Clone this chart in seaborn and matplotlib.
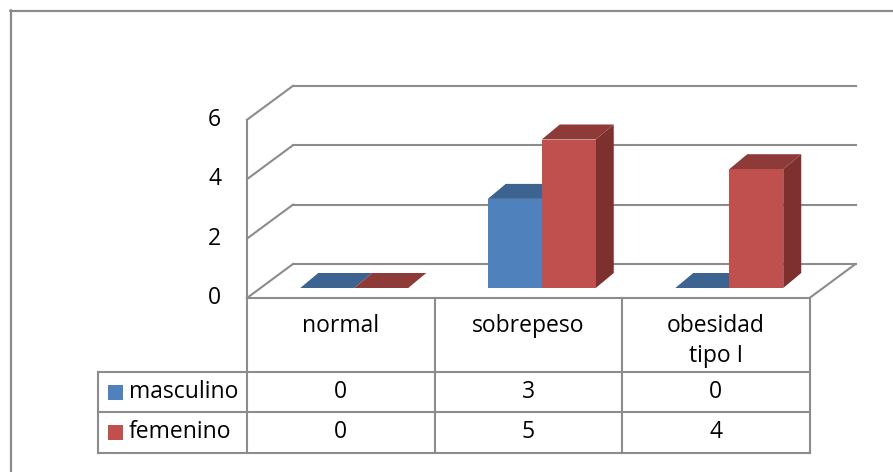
import matplotlib
matplotlib.use("Agg")
import matplotlib.pyplot as plt
from matplotlib.patches import Polygon, Rectangle
from matplotlib.lines import Line2D
from matplotlib.colors import to_hex
import pandas as pd
import seaborn as sns

# ---- data ----
categorias = ["normal", "sobrepeso", "obesidad\ntipo I"]
series = ["masculino", "femenino"]
masculino = [0, 3, 0]
femenino = [0, 5, 4]
y_ticks = [0, 2, 4, 6]

# ---- style ----
W, H, DPI = 893, 472, 100
BLUE, RED = "#4F81BD", "#C0504D"
SHADES = {  # front colour -> (top face, side face)
    BLUE.lower(): ("#3D6391", "#375A84"),
    RED.lower(): ("#8E3A38", "#7D302E"),
}
GRID = "#8C8C8C"
FS = 16.5
TXT = "black"

sns.set_theme(style="white")
plt.rcParams["font.family"] = ["Open Sans", "DejaVu Sans"]
plt.rcParams["text.color"] = TXT

df = pd.DataFrame({
    "categoria": categorias * 2,
    "sexo": [series[0]] * 3 + [series[1]] * 3,
    "valor": masculino + femenino,
})

fig = plt.figure(figsize=(W / DPI, H / DPI), dpi=DPI)
fig.patch.set_facecolor("white")


def fx(px):
    return px / W


def fy(py):
    return 1 - py / H


# axes holding the front plane of the columns
ax = fig.add_axes([fx(260.5), fy(288), fx(823) - fx(260.5), fy(109.8) - fy(288)])
sns.barplot(data=df, x="categoria", y="valor", hue="sexo", order=categorias,
            hue_order=series, palette=[BLUE, RED], width=0.576, saturation=1,
            dodge=True, legend=False, linewidth=0, ax=ax, zorder=3)
ax.set_xlim(-0.5, len(categorias) - 0.5)
ax.set_ylim(0, 6)
ax.axis("off")


def px_delta(dx, dy):
    inv = ax.transData.inverted()
    a = inv.transform((0, 0))
    b = inv.transform((dx, dy))
    return b[0] - a[0], b[1] - a[1]


ddx, ddy = px_delta(18, 15)       # depth of a column
bdx, bdy = px_delta(32.5, 24)     # back wall
fdx, fdy = px_delta(-13.5, -10)   # front edge of the floor
x_lo, x_hi = -0.5, len(categorias) - 0.5

# 3D faces of the columns
for p in ax.patches:
    x0, w, h = p.get_x(), p.get_width(), p.get_height()
    top_c, side_c = SHADES[to_hex(p.get_facecolor())]
    ax.add_patch(Polygon([(x0 + w, 0), (x0 + w + ddx, ddy), (x0 + w + ddx, h + ddy), (x0 + w, h)],
                         closed=True, fc=side_c, ec="none", zorder=2, clip_on=False))
    ax.add_patch(Polygon([(x0, h), (x0 + w, h), (x0 + w + ddx, h + ddy), (x0 + ddx, h + ddy)],
                         closed=True, fc=top_c, ec="none", zorder=2, clip_on=False))

line_kw = dict(color=GRID, lw=1.5, zorder=1, clip_on=False, solid_capstyle="projecting")
for v in y_ticks:
    ax.plot([x_lo + bdx, x_hi + bdx], [v + bdy, v + bdy], **line_kw)
    ax.plot([x_lo + fdx, x_lo + bdx], [v + fdy, v + bdy], **line_kw)
    ax.text(x_lo + fdx + px_delta(-26, 0)[0], v + fdy, str(v), ha="right", va="center",
            fontsize=FS, color=TXT)
ax.plot([x_lo + fdx, x_lo + fdx], [fdy, y_ticks[-1] + fdy], **line_kw)
ax.plot([x_lo + fdx, x_hi + fdx], [fdy, fdy], **line_kw)
ax.plot([x_hi + fdx, x_hi + bdx], [fdy, bdy], **line_kw)

# ---- data table ----
legend_w = 149 / 187.5
tax = fig.add_axes([fx(98), fy(453), fx(809.5) - fx(98), fy(298) - fy(453)])
tax.set_xlim(x_lo - legend_w, x_hi)
tax.set_ylim(155, 0)
tax.axis("off")
rows = [0, 74, 114, 155]
tkw = dict(color=GRID, lw=1.5, clip_on=False, solid_capstyle="projecting")
for b in [x_lo, 0.5, 1.5, x_hi]:
    tax.plot([b, b], [rows[0], rows[-1]], **tkw)
tax.plot([x_lo - legend_w] * 2, [rows[1], rows[-1]], **tkw)
for r in rows[1:]:
    tax.plot([x_lo - legend_w, x_hi], [r, r], **tkw)

for i, c in enumerate(categorias):
    tax.text(i, 16, c, ha="center", va="top", fontsize=FS, linespacing=1.35, color=TXT)

sq = 15 / 187.5
for j, (name, vals, col) in enumerate(zip(series, [masculino, femenino], [BLUE, RED])):
    yc = (rows[j + 1] + rows[j + 2]) / 2
    tax.add_patch(Rectangle((x_lo - legend_w + 10 / 187.5, yc - 7.5), sq, 15,
                            fc=col, ec="none", clip_on=False))
    tax.text(x_lo - legend_w + 31 / 187.5, yc, name, ha="left", va="center",
             fontsize=FS, color=TXT)
    for i, v in enumerate(vals):
        tax.text(i, yc, str(v), ha="center", va="center", fontsize=FS, color=TXT)

# chart area border
fig.add_artist(Line2D([fx(10.5), fx(10.5)], [fy(10), 0], transform=fig.transFigure,
                      color="#8A8A8A", lw=1.6))
fig.add_artist(Line2D([fx(10), 1], [fy(10.5), fy(10.5)], transform=fig.transFigure,
                      color="#8A8A8A", lw=1.6))

fig.savefig("out.png", dpi=DPI, facecolor="white")
